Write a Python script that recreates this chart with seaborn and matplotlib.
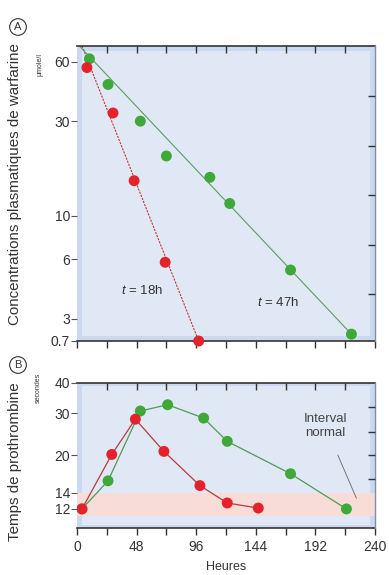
import numpy as np
import seaborn as sns
import matplotlib.pyplot as plt
from matplotlib.patches import Rectangle
from matplotlib.ticker import NullLocator, FixedLocator

# panneau A : concentrations plasmatiques (heures, umole/l)
a_green_hours = [10, 25, 51, 72, 107, 123, 172, 221]
a_green_conc = [62, 46, 30, 20, 15.6, 11.5, 5.3, 1.1]
a_red_hours = [8, 29, 46, 71, 98]
a_red_conc = [56, 33, 15, 5.8, 0.7]
# droites de regression (extremites)
a_green_fit_hours = [2, 221]
a_green_fit_conc = [72, 1.1]
a_red_fit_hours = [4, 98]
a_red_fit_conc = [72, 0.7]
a_yticks = [0.7, 3, 6, 10, 30, 60]
a_right_ticks = [40, 22.5, 12.65, 7.11, 4.0]

# panneau B : temps de prothrombine (secondes)
b_red_hours = [4, 28, 47, 70, 99, 121, 146]
b_red_time = [12, 20.2, 28.3, 20.8, 15, 12.7, 12.1]
b_green_hours = [4, 25, 51, 73, 102, 121, 172, 217]
b_green_time = [12, 15.7, 30.6, 32.5, 28.6, 22.9, 16.8, 12]
b_yticks = [12, 14, 20, 30, 40]
b_right_ticks = [31.8, 25, 20, 15.9]
normal_range = [11.2, 14]

hour_ticks = list(range(0, 241, 24))
hour_labels = list(range(0, 241, 48))

RED = "#e3222b"
GREEN = "#3ea838"
BG_OUT = "#cad9f0"
BG_IN = "#e1e8f5"

sns.set_style("ticks")
plt.rcParams["font.family"] = ["Liberation Sans", "DejaVu Sans"]
plt.rcParams["mathtext.fontset"] = "custom"
plt.rcParams["mathtext.it"] = "Liberation Sans:italic"
plt.rcParams["mathtext.rm"] = "Liberation Sans"
plt.rcParams["axes.axisbelow"] = False

# echelle log, comprimee sous 3
L3 = np.log10(3)
K = 0.177


def fwd(y):
    ly = np.log10(np.clip(y, 1e-6, None))
    return np.where(ly >= L3, ly, L3 - (L3 - ly) * K)


def inv(t):
    t = np.asarray(t, dtype=float)
    return np.where(t >= L3, 10 ** t, 10 ** (L3 - (L3 - t) / K))


fig = plt.figure(figsize=(3.89, 5.75), dpi=100)
pos1 = [77 / 389, 1 - 341 / 575, 298 / 389, 295 / 575]
pos2 = [77 / 389, 1 - 528 / 575, 298 / 389, 145 / 575]
ax1 = fig.add_axes(pos1)
ax2 = fig.add_axes(pos2)

for ax in (ax1, ax2):
    ax.set_facecolor(BG_OUT)
    ax.add_patch(Rectangle((0.018, 0.018), 0.964, 0.964, transform=ax.transAxes,
                           fc=BG_IN, ec="none", zorder=0))

# ---- panneau A
sns.lineplot(x=a_red_fit_hours, y=a_red_fit_conc, ax=ax1, color="#c23a3a",
             lw=0.8, ls=(0, (2, 1)), zorder=2)
sns.lineplot(x=a_green_fit_hours, y=a_green_fit_conc, ax=ax1, color="#5e9c5e",
             lw=0.8, zorder=2)
sns.scatterplot(x=a_green_hours, y=a_green_conc, ax=ax1, color=GREEN, s=62,
                edgecolor="none", zorder=3, clip_on=False)
sns.scatterplot(x=a_red_hours, y=a_red_conc, ax=ax1, color=RED, s=62,
                edgecolor="none", zorder=4, clip_on=False)
ax1.set_yscale("function", functions=(fwd, inv))
ax1.set_xlim(0, 240)
ax1.set_ylim(0.7, 72)
ax1.set_yticks(a_yticks)
ax1.set_yticklabels([f"{v:g}" for v in a_yticks])
ax1.yaxis.set_minor_locator(NullLocator())
ax1.set_xticks(hour_ticks)
ax1.set_xticklabels([])
ax1.tick_params(axis="x", direction="out", length=5, width=1, color="#333")
ax1.tick_params(axis="y", direction="out", length=4, width=0.8, color="#555",
                labelsize=10, pad=1, labelcolor="#333")
ax1.text(52, 4.17, "$t$ = 18h", ha="center", va="center", fontsize=9.5, color="#333")
ax1.text(162, 3.62, "$t$ = 47h", ha="center", va="center", fontsize=9.5, color="#333")

# ---- panneau B
ax2.axhspan(normal_range[0], normal_range[1], color="#f8dcd8", zorder=1, lw=0)
sns.lineplot(x=b_green_hours, y=b_green_time, ax=ax2, color="#4f9a55",
             lw=0.9, zorder=2, sort=False)
sns.lineplot(x=b_red_hours, y=b_red_time, ax=ax2, color="#b63a3c",
             lw=0.9, zorder=2, sort=False)
sns.scatterplot(x=b_green_hours, y=b_green_time, ax=ax2, color=GREEN, s=62,
                edgecolor="none", zorder=3)
sns.scatterplot(x=b_red_hours, y=b_red_time, ax=ax2, color=RED, s=62,
                edgecolor="none", zorder=4)
ax2.set_yscale("log")
ax2.set_xlim(0, 240)
ax2.set_ylim(10, 40)
ax2.yaxis.set_major_locator(FixedLocator(b_yticks))
ax2.set_yticklabels([str(v) for v in b_yticks])
ax2.yaxis.set_minor_locator(NullLocator())
ax2.set_xticks(hour_labels)
ax2.set_xticklabels([str(v) for v in hour_labels])
ax2.xaxis.set_minor_locator(FixedLocator(hour_ticks))
ax2.tick_params(axis="x", which="both", direction="out", length=5, width=1,
                color="#333", labelsize=10, labelcolor="#333")
ax2.tick_params(axis="y", direction="out", length=4, width=0.8, color="#555",
                labelsize=10, pad=1, labelcolor="#333")
ax2.annotate("Interval\nnormal", xy=(225, 13.3), xytext=(200, 26.5),
             ha="center", va="center", fontsize=9.5, color="#444",
             arrowprops=dict(arrowstyle="-", lw=0.6, color="#666",
                             shrinkA=10, shrinkB=0))
ax2.set_xlabel("Heures", fontsize=9, color="#333", labelpad=5)
ax2.set_ylabel("")
ax1.set_ylabel("")

for ax, pos, rticks in ((ax1, pos1, a_right_ticks), (ax2, pos2, b_right_ticks)):
    ax.spines["left"].set_visible(False)
    ax.spines["right"].set_visible(False)
    for s in ("top", "bottom"):
        ax.spines[s].set_linewidth(1.2)
        ax.spines[s].set_color("#333")

    # graduations du haut, vers l'interieur
    h_px = pos[3] * 575
    ax.vlines(hour_ticks[1:-1], 1 - 7 / h_px, 1, transform=ax.get_xaxis_transform(),
              colors="#333", lw=1, zorder=6, clip_on=False)

    # graduations de droite (vers l'interieur)
    ov = fig.add_axes(pos, zorder=10)
    ov.patch.set_visible(False)
    ov.set_xlim(0, 240)
    ov.set_yscale(ax.get_yscale(), **({"functions": (fwd, inv)} if ax is ax1 else {}))
    ov.set_ylim(ax.get_ylim())
    ov.set_xticks([])
    ov.set_yticks(rticks)
    ov.yaxis.set_minor_locator(NullLocator())
    ov.tick_params(axis="y", direction="in", length=5, width=1, color="#333",
                   left=False, right=True, labelleft=False, labelright=False)
    for s in ("left", "top", "bottom"):
        ov.spines[s].set_visible(False)
    ov.spines["right"].set_color("#7f8fa8")
    ov.spines["right"].set_linewidth(1)

# titres des axes y
fig.text(15 / 389, 1 - 184 / 575, "Concentrations plasmatiques de warfarine",
         rotation=90, ha="center", va="center", fontsize=10.9, color="#333")
fig.text(40 / 389, 1 - 64 / 575, "µmole/l", rotation=90, ha="center",
         va="center", fontsize=5, color="#333")
fig.text(15 / 389, 1 - 462 / 575, "Temps de prothrombine",
         rotation=90, ha="center", va="center", fontsize=10.9, color="#333")
fig.text(38 / 389, 1 - 388 / 575, "secondes", rotation=90, ha="center",
         va="center", fontsize=5, color="#333")

# lettres des panneaux
for letter, ypx in (("A", 27), ("B", 365)):
    fig.text(18 / 389, 1 - ypx / 575, letter, ha="center", va="center",
             fontsize=8, color="#333",
             bbox=dict(boxstyle="circle,pad=0.3", fc="white", ec="#333", lw=0.8))

fig.savefig("out.png", dpi=100)
